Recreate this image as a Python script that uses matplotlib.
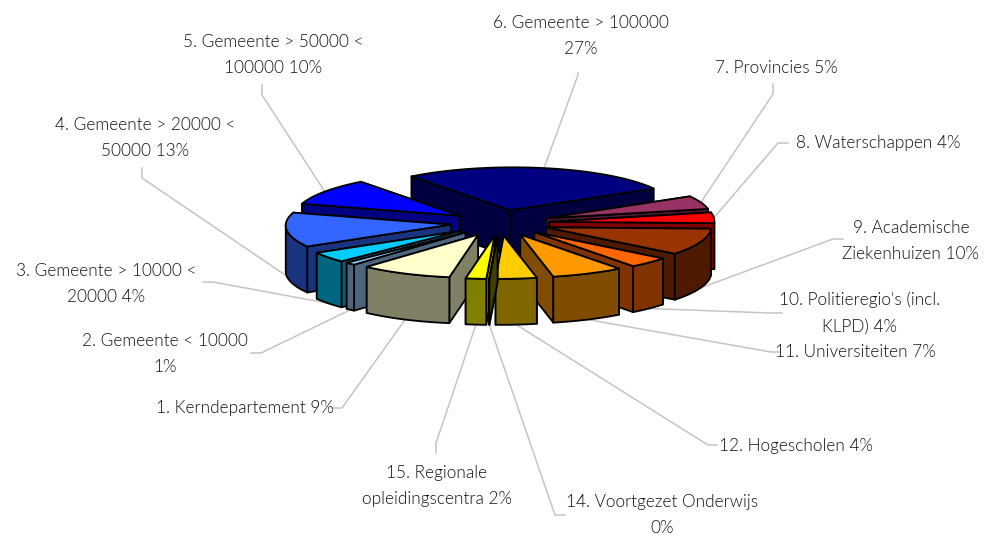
import numpy as np
import matplotlib
matplotlib.use("Agg")
import matplotlib.pyplot as plt
from matplotlib.patches import Polygon

# share per sector, clockwise from the first slice
names = ["1. Kerndepartement 9%", "2. Gemeente < 10000\n1%", "3. Gemeente > 10000 <\n20000 4%",
         "4. Gemeente > 20000 <\n50000 13%", "5. Gemeente > 50000 <\n100000 10%", "6. Gemeente > 100000\n27%",
         "7. Provincies 5%", "8. Waterschappen 4%", "9. Academische\nZiekenhuizen 10%",
         "10. Politieregio's (incl.\nKLPD) 4%", "11. Universiteiten 7%", "12. Hogescholen 4%",
         "14. Voortgezet Onderwijs\n0%", "15. Regionale\nopleidingscentra 2%"]
shares = [9, 1, 4, 13, 10, 27, 5, 4, 10, 4, 7, 4, 0, 2]
colors = ["#FFFFCC", "#99CCFF", "#00CCFF", "#3366FF", "#0000FF", "#000080", "#993366",
          "#FF0000", "#993300", "#FF6600", "#FF9900", "#FFCC00", "#808000", "#FFFF00"]

# pie projection, in pixels
cx, cy = 500, 223
rx, ry = 165, 43
depth = 46
explode = 0.3
first_angle = 189
shear = -0.07

# text centre, then the elbow of the leader line
label_xy = [(245, 408), (165, 354), (106, 284), (145, 138), (273, 55), (581, 36), (776, 68), (878, 143),
            (911, 241), (860, 313), (855, 352), (796, 446), (662, 515), (437, 486)]
elbows = [(342, 408), (261, 353), (213, 282), (142, 178), (262, 95), (578, 75), (773, 94), (778, 143),
          (833, 239), (770, 313), (771, 352), (708, 445), (555, 515), (436, 443)]
label_ends = [(332, 408), (251, 353), (203, 282), (142, 168), (262, 85), (578, 73), (773, 84), (788, 143),
              (843, 239), (782, 313), (780, 352), (717, 445), (565, 515), (436, 453)]


def shade(c):
    r, g, b = matplotlib.colors.to_rgb(c)
    return (r * 0.5, g * 0.5, b * 0.5)


fig = plt.figure(figsize=(9.89, 5.35), dpi=100)
ax = fig.add_axes([0, 0, 1, 1])
ax.set_xlim(0, 989)
ax.set_ylim(535, 0)
ax.axis("off")
plt.rcParams["font.family"] = ["Lato", "DejaVu Sans"]

edges = np.cumsum([0] + shares) * 3.6 + first_angle
mids = (edges[:-1] + edges[1:]) / 2


def project(x, y):
    return x + shear * (y - cy), y


def arc(t, ax0, ay0):
    t = np.radians(t)
    y = ay0 - ry * np.cos(t)
    x = ax0 + rx * np.sin(t)
    return np.column_stack(project(x, y))


z = 5


def add(pts, col):
    global z
    ax.add_patch(Polygon(pts, closed=True, fc=col, ec="black", lw=1.3, joinstyle="round", zorder=z))
    z += 1


# painter's order: back slices first
order = np.argsort(-np.cos(np.radians(mids)))
for i in order:
    m = np.radians(mids[i])
    ax0 = cx + explode * rx * np.sin(m)
    ay0 = cy - explode * ry * np.cos(m)
    ts = np.linspace(edges[i], edges[i + 1], 40)
    top = arc(ts, ax0, ay0)
    apex = np.array(project(ax0, ay0))
    down = np.array([0, depth])
    side = shade(colors[i])

    # radial faces, the one further back first
    for o in sorted([top[0], top[-1]], key=lambda p: p[1]):
        add([apex, o, o + down, apex + down], side)

    # outer wall, only the part facing the viewer
    vis = ts[np.cos(np.radians(ts)) < 0]
    if len(vis) > 1:
        w = arc(vis, ax0, ay0)
        add(np.vstack([w, (w + down)[::-1]]), side)

    add(np.vstack([[apex], top]), colors[i])

for i in range(len(shares)):
    m = np.radians(mids[i])
    px, py = project(cx + (1 + explode) * rx * np.sin(m), cy - (1 + explode) * ry * np.cos(m))
    if np.cos(m) < 0:
        py += depth
    ax.plot([label_ends[i][0], elbows[i][0], px], [label_ends[i][1], elbows[i][1], py],
            color="#C4C4C4", lw=1.1, zorder=2)
    ax.text(label_xy[i][0], label_xy[i][1], names[i], ha="center", va="center",
            fontsize=12.4, fontweight=300, color="#111111", linespacing=1.75, zorder=30)

fig.savefig("out.png", dpi=100)
